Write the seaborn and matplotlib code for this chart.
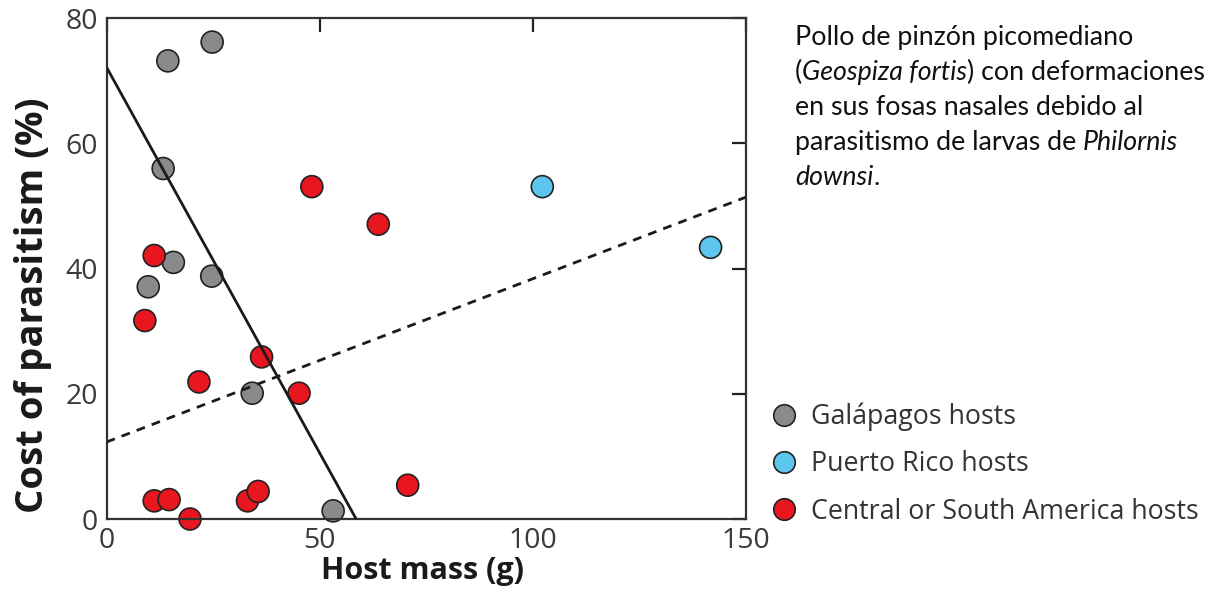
import matplotlib
matplotlib.use("Agg")
import matplotlib.pyplot as plt
from matplotlib.lines import Line2D
import seaborn as sns
import pandas as pd

# ---------------- data ----------------
gal_x = [14.4, 24.8, 13.3, 15.7, 9.8, 24.7, 34.2, 53.2]
gal_y = [73.2, 76.2, 56.0, 41.0, 37.1, 38.8, 20.1, 1.3]
pr_x = [102.3, 141.8]
pr_y = [53.1, 43.4]
csa_x = [48.2, 63.8, 11.2, 9.0, 36.4, 21.7, 45.2, 11.2, 14.7, 19.6, 33.1, 35.6, 70.7]
csa_y = [53.1, 47.1, 42.1, 31.7, 25.9, 21.9, 20.1, 2.9, 3.1, 0.0, 2.9, 4.4, 5.4]

groups = ["Galápagos hosts", "Puerto Rico hosts", "Central or South America hosts"]
colors = ["#8a8a8c", "#5cc6ee", "#e8161e"]

solid_x = [0, 58.6]
solid_y = [72.2, 0]
dashed_x = [0, 150]
dashed_y = [12.3, 51.4]

x_ticks = [0, 50, 100, 150]
y_ticks = [0, 20, 40, 60, 80]

caption_lines = [
    [("Pollo de pinzón picomediano", "normal")],
    [("(", "normal"), ("Geospiza fortis", "italic"), (") con deformaciones", "normal")],
    [("en sus fosas nasales debido al", "normal")],
    [("parasitismo de larvas de ", "normal"), ("Philornis", "italic")],
    [("downsi", "italic"), (".", "normal")],
]

# ---------------- table ----------------
df = pd.DataFrame({
    "mass": gal_x + pr_x + csa_x,
    "cost": gal_y + pr_y + csa_y,
    "group": [groups[0]] * len(gal_x) + [groups[1]] * len(pr_x) + [groups[2]] * len(csa_x),
})

sns.set_style("white")
plt.rcParams["font.family"] = ["Open Sans", "DejaVu Sans"]

W, H = 1210, 599
fig = plt.figure(figsize=(W / 100, H / 100), dpi=100)
ax = fig.add_axes([106.5 / W, 1 - 519 / H, (745.5 - 106.5) / W, (519 - 18.3) / H])

sns.scatterplot(data=df, x="mass", y="cost", hue="group", hue_order=groups,
                palette=dict(zip(groups, colors)), s=250, edgecolor="#222222",
                linewidth=1.2, ax=ax, legend=False, clip_on=False, zorder=2)

ax.plot(solid_x, solid_y, color="#1a1a1a", lw=2.0, zorder=3, solid_capstyle="butt")
ax.plot(dashed_x, dashed_y, color="#1a1a1a", lw=2.0, zorder=3, dashes=(3.2, 2.6))

ax.set_xlim(0, 150)
ax.set_ylim(0, 80)
ax.set_xticks(x_ticks)
ax.set_yticks(y_ticks)
ax.tick_params(direction="in", length=10, width=1.6, color="#222222",
               top=True, right=True, labelsize=20.5, labelcolor="#3a3a3a")
ax.tick_params(axis="y", pad=6)
ax.tick_params(axis="x", pad=6)
for s in ax.spines.values():
    s.set_color("#333333")
    s.set_linewidth(1.6)
    s.set_visible(True)

ax.set_xlabel("Host mass (g)", fontsize=22, fontweight="bold", color="#1a1a1a")
ax.set_ylabel("Cost of parasitism (%)", fontsize=27.5, fontweight="bold", color="#1a1a1a")
ax.xaxis.set_label_coords(0.4945, -0.074)
ax.yaxis.set_label_coords(-0.086, 0.427)

# legend
handles = [Line2D([], [], marker="o", linestyle="", markersize=15.5,
                  markerfacecolor=c, markeredgecolor="#222222", markeredgewidth=1.2)
           for c in colors]
fig.legend(handles, groups, loc="upper left", bbox_to_anchor=(755 / W, 1 - 389 / H),
           frameon=False, fontsize=19.3, labelspacing=0.72, handletextpad=0.4,
           handlelength=1.2, borderpad=0, labelcolor="#333333")

# caption with mixed italic
fig.canvas.draw()
renderer = fig.canvas.get_renderer()
x0 = 795
y0 = 45
dy = 35
for i, line in enumerate(caption_lines):
    x = x0
    yb = y0 + i * dy
    for txt, style in line:
        t = fig.text(x / W, 1 - yb / H, txt, family=["Lato", "DejaVu Sans"], style=style,
                     fontsize=19.3, color="#111111", va="baseline", ha="left")
        bb = t.get_window_extent(renderer=renderer)
        x += bb.width

fig.savefig("out.png", dpi=100)
